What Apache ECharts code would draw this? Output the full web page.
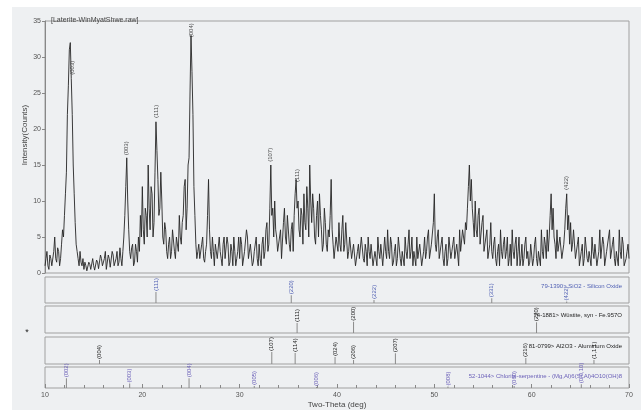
<!DOCTYPE html>
<html>
<head>
<meta charset="utf-8">
<script src="https://cdn.jsdelivr.net/npm/echarts@6.0.0/dist/echarts.min.js"></script>
<style>
html, body { margin: 0; padding: 0; background: #fff; }
#chart { width: 641px; height: 410px; }
</style>
</head>
<body>
<div id="chart"></div>
<script>
// scan from 10 to 70 deg, one reading every 0.1 deg (20 per row = 2 deg)
var thetaStart = 10;
var thetaStep = 0.1;
var counts = [
    1, 2, 3, 1, 0.5, 2.5, 2, 1, 1, 3, 5, 2, 1.5, 3.5, 3, 1, 2, 4, 6, 5,             // 10
    8, 11, 14, 22, 26, 31, 32, 27, 22, 15, 11, 7, 4, 3, 2, 1, 3, 1.5, 1, 2,          // 12
    0.5, 1.5, 1, 0.3, 0.3, 1.5, 1.2, 0.5, 0.6, 2, 1, 0.4, 0.4, 1.8, 1.5, 0.6, 0.8, 2.5, 2, 1, // 14
    1, 2, 3, 0.5, 0.5, 2.5, 2, 0.8, 1, 3, 2.5, 1, 0.8, 2, 3, 1, 1.5, 3.5, 2, 1,     // 16
    3, 5, 8, 12, 16, 10, 6, 3, 2, 3.5, 4, 1, 1.5, 4, 3, 1.5, 5, 3, 8, 5,            // 18
    12, 6, 4, 9, 8, 5, 15, 9, 6, 12, 11, 5, 7, 14, 21, 17, 13, 8, 9, 14,            // 20
    10, 5, 4, 7, 6, 3, 2, 4, 5, 2, 3, 6, 6, 3, 2, 5, 5, 3, 8, 5,                    // 22
    4, 7, 8, 12, 13, 6, 9, 15, 16, 25, 33, 28, 22, 12, 8, 4, 2, 3, 4, 2,            // 24
    2, 4, 5, 2, 1.5, 3, 4, 8, 13, 6, 3, 2, 5, 3, 1, 4, 4, 2, 2, 5,                  // 26
    3, 2, 1, 4, 5, 2, 2, 5, 4, 1, 1.5, 4, 3, 1, 5, 3, 1, 2, 3, 5,                   // 28
    2, 5, 4, 1, 1, 3, 3, 6, 5, 2, 2, 4, 4, 1, 1.5, 3, 3, 5, 2, 1,                   // 30
    4, 2, 1, 4, 5, 2, 3, 6, 7, 3, 4, 9, 15, 8, 9, 5, 10, 6, 5, 3,                   // 32
    3, 5, 6, 2, 2, 7, 9, 5, 4, 8, 8, 4, 3, 6, 7, 3, 8, 11, 13, 9,                   // 34
    10, 6, 5, 9, 8, 4, 11, 7, 6, 12, 9, 5, 15, 10, 7, 11, 9, 5, 4, 8,               // 36
    10, 5, 11, 8, 6, 3, 4, 9, 7, 4, 3, 6, 5, 8, 13, 6, 4, 2, 2, 5,                  // 38
    5, 3, 7, 4, 3, 6, 8, 3, 4, 7, 7, 2, 3, 5, 5, 2, 2, 4, 4, 1,                     // 40
    1, 3, 4, 2, 2, 5, 5, 2, 1.5, 4, 3, 1, 5, 3, 2, 4, 4, 1, 1, 3,                   // 42
    3, 1, 5, 3, 2, 4, 4, 1, 1, 5, 3, 2, 6, 3, 2, 5, 4, 1, 1.5, 3,                   // 44
    4, 1, 2, 5, 5, 2, 1, 3, 3, 1, 5, 3, 2, 4, 6, 2, 3, 5, 1, 3,                     // 46
    3, 1, 5, 2, 2, 4, 4, 1, 1, 3, 5, 2, 3, 5, 6, 2, 2, 4, 4, 7,                     // 48
    11, 4, 3, 5, 6, 2, 2, 4, 5, 2, 1, 3, 4, 1, 2, 5, 5, 2, 3, 4,                    // 50
    5, 2, 2, 4, 4, 1, 6, 3, 3, 6, 5, 4, 7, 6, 9, 12, 15, 10, 13, 9,                 // 52
    7, 5, 10, 6, 5, 8, 9, 4, 4, 7, 8, 3, 3, 5, 6, 2, 2, 4, 7, 3,                    // 54
    2, 4, 5, 2, 1, 3, 4, 1, 6, 3, 2, 4, 5, 2, 3, 5, 1, 2, 4, 1,                     // 56
    6, 3, 2, 4, 5, 1, 3, 5, 1, 2, 4, 1, 2, 4, 5, 2, 3, 1, 1.5, 4,                   // 58
    4, 1, 2, 4, 5, 2, 1, 3, 3, 1, 6, 3, 2, 5, 4, 2, 6, 3, 5, 8,                     // 60
    11, 6, 9, 5, 4, 2, 6, 3, 3, 5, 5, 2, 2, 4, 6, 9, 11, 6, 8, 4,                   // 62
    7, 3, 4, 6, 6, 2, 2, 4, 5, 1, 1, 3, 4, 1, 2, 5, 5, 2, 1.5, 3,                   // 64
    3, 1, 5, 3, 2, 4, 4, 1, 1, 3, 6, 2, 2, 5, 4, 1, 1, 3, 3, 5,                     // 66
    6, 2, 2, 4, 5, 2, 1, 3, 3, 1, 6, 3, 2, 5, 4, 1, 1, 2, 3, 4,                     // 68
    2
];

// labelled peaks in the pattern
var peakTheta = [12.8, 18.4, 21.4, 25.0, 33.2, 35.9, 63.6];
var peakLabelAt = [27.4, 16.2, 21.4, 32.6, 15.3, 12.5, 11.4];
var peakHkl = ['(003)', '(003)', '(111)', '(004)', '(107)', '(111)', '(422)'];

// reference cards
var sio2Name = '79-1390> SiO2 - Silicon Oxide';
var sio2Theta = [21.4, 35.3, 43.8, 55.9, 63.6];
var sio2Int = [42, 30, 12, 18, 6];
var sio2Hkl = ['(111)', '(220)', '(222)', '(331)', '(422)'];

var wusName = '74-1881> Wüstite, syn - Fe.957O';
var wusTheta = [35.9, 41.7, 60.5];
var wusInt = [37, 42, 40];
var wusHkl = ['(111)', '(200)', '(220)'];

var alName = '81-0799> Al2O3 - Aluminum Oxide';
var alTheta = [15.6, 33.3, 35.7, 39.8, 41.7, 46.0, 59.4, 66.4];
var alInt = [15, 44, 41, 26, 15, 40, 22, 15];
var alHkl = ['(004)', '(107)', '(114)', '(024)', '(206)', '(207)', '(216)', '(1,1,1)'];

var chlName = '52-1044> Chlorite-serpentine - (Mg,Al)6(Si,Al)4O10(OH)8';
var chlTheta = [12.2, 18.7, 24.8, 31.5, 37.9, 51.4, 58.2, 65.1];
var chlInt = [46, 21, 46, 10, 5, 7, 10, 18];
var chlHkl = ['(002)', '(003)', '(004)', '(005)', '(006)', '(008)', '(060)', '(0,0,10)'];

var lineData = counts.map(function (c, i) {
    return [+(thetaStart + i * thetaStep).toFixed(1), c];
});

var chart = echarts.init(document.getElementById('chart'));

// panel boxes: [top, height]
var panels = [[277, 26], [306, 27], [337, 27], [367, 28]];
var cards = [
    { name: sio2Name, theta: sio2Theta, inten: sio2Int, hkl: sio2Hkl, color: '#4f5fb3' },
    { name: wusName, theta: wusTheta, inten: wusInt, hkl: wusHkl, color: '#222' },
    { name: alName, theta: alTheta, inten: alInt, hkl: alHkl, color: '#222' },
    { name: chlName, theta: chlTheta, inten: chlInt, hkl: chlHkl, color: '#6a5fb8' }
];

var grids = [{ left: 45, top: 21, width: 584, height: 252, show: true, borderColor: '#a0a0a0', borderWidth: 1 }];
var xAxes = [{
    gridIndex: 0, type: 'value', min: 10, max: 70, interval: 10,
    axisLine: { show: false }, axisTick: { show: false }, axisLabel: { show: false }, splitLine: { show: false }
}];
var yAxes = [{
    gridIndex: 0, type: 'value', min: 0, max: 35, interval: 5,
    axisLine: { show: true, lineStyle: { color: '#888' } },
    axisTick: { show: true, length: 3, lineStyle: { color: '#888' } },
    axisLabel: { fontSize: 7, color: '#555', margin: 4, fontFamily: 'Liberation Sans' },
    splitLine: { show: false }
}];
var titles = [{
    text: '[Laterite-WinMyatShwe.raw]', left: 46, top: 12,
    textStyle: { fontSize: 7, fontWeight: 'normal', color: '#444', fontFamily: 'Liberation Sans' }
}];

var series = [{
    type: 'line', xAxisIndex: 0, yAxisIndex: 0, data: lineData,
    showSymbol: false, symbol: 'none',
    lineStyle: { color: '#262626', width: 0.9 }
}, {
    type: 'scatter', xAxisIndex: 0, yAxisIndex: 0, symbolSize: 0,
    data: peakTheta.map(function (t, i) { return { value: [t, peakLabelAt[i]], name: peakHkl[i] }; }),
    label: {
        show: true, position: 'top', rotate: 90, align: 'left', verticalAlign: 'middle', distance: 1,
        formatter: '{b}', fontSize: 6, color: '#222', fontFamily: 'Liberation Sans'
    },
    silent: true
}];

panels.forEach(function (p, k) {
    var last = k === panels.length - 1;
    var gi = k + 1;
    grids.push({ left: 45, top: p[0], width: 584, height: p[1], show: true, borderColor: '#a0a0a0', borderWidth: 1 });
    xAxes.push({
        gridIndex: gi, type: 'value', min: 10, max: 70, interval: 10,
        axisLine: { show: false },
        axisTick: { show: last, inside: true, length: 4, lineStyle: { color: '#888' } },
        minorTick: { show: last, splitNumber: 5, length: 3, lineStyle: { color: '#888' } },
        axisLabel: { show: last, fontSize: 7, color: '#555', margin: 4, fontFamily: 'Liberation Sans' },
        splitLine: { show: false },
        name: last ? 'Two-Theta (deg)' : '', nameLocation: 'middle', nameGap: 13,
        nameTextStyle: { fontSize: 8, color: '#444', fontFamily: 'Liberation Sans' }
    });
    yAxes.push({ gridIndex: gi, type: 'value', min: 0, max: 100, show: false });
    var c = cards[k];
    titles.push({
        text: c.name, right: 14, top: p[0] + 1,
        textStyle: { fontSize: 6, fontWeight: 'normal', color: c.color, fontFamily: 'Liberation Sans' }
    });
    series.push({
        type: 'bar', xAxisIndex: gi, yAxisIndex: gi, barWidth: 1,
        data: c.theta.map(function (t, i) { return { value: [t, c.inten[i]], name: c.hkl[i] }; }),
        itemStyle: { color: '#8a8a8a' },
        label: {
            show: true, position: 'top', rotate: 90, align: 'left', verticalAlign: 'middle', distance: 1,
            formatter: '{b}', fontSize: 6, color: c.color, fontFamily: 'Liberation Sans'
        },
        silent: true
    });
});

chart.setOption({
    backgroundColor: '#eef0f2',
    animation: false,
    title: titles,
    grid: grids,
    xAxis: xAxes,
    yAxis: yAxes,
    series: series,
    graphic: [
        { type: 'rect', shape: { x: 0, y: 0, width: 12, height: 410 }, style: { fill: '#fff' }, silent: true },
        { type: 'rect', shape: { x: 0, y: 0, width: 641, height: 7 }, style: { fill: '#fff' }, silent: true },
        {
            type: 'text', x: 25, y: 135, rotation: Math.PI / 2,
            style: { text: 'Intensity(Counts)', fontSize: 8, fill: '#444', align: 'center', verticalAlign: 'middle', fontFamily: 'Liberation Sans' }
        },
        { type: 'text', x: 27, y: 333, style: { text: '*', fontSize: 9, fill: '#222', align: 'center', verticalAlign: 'middle' } }
    ]
});
</script>
</body>
</html>
